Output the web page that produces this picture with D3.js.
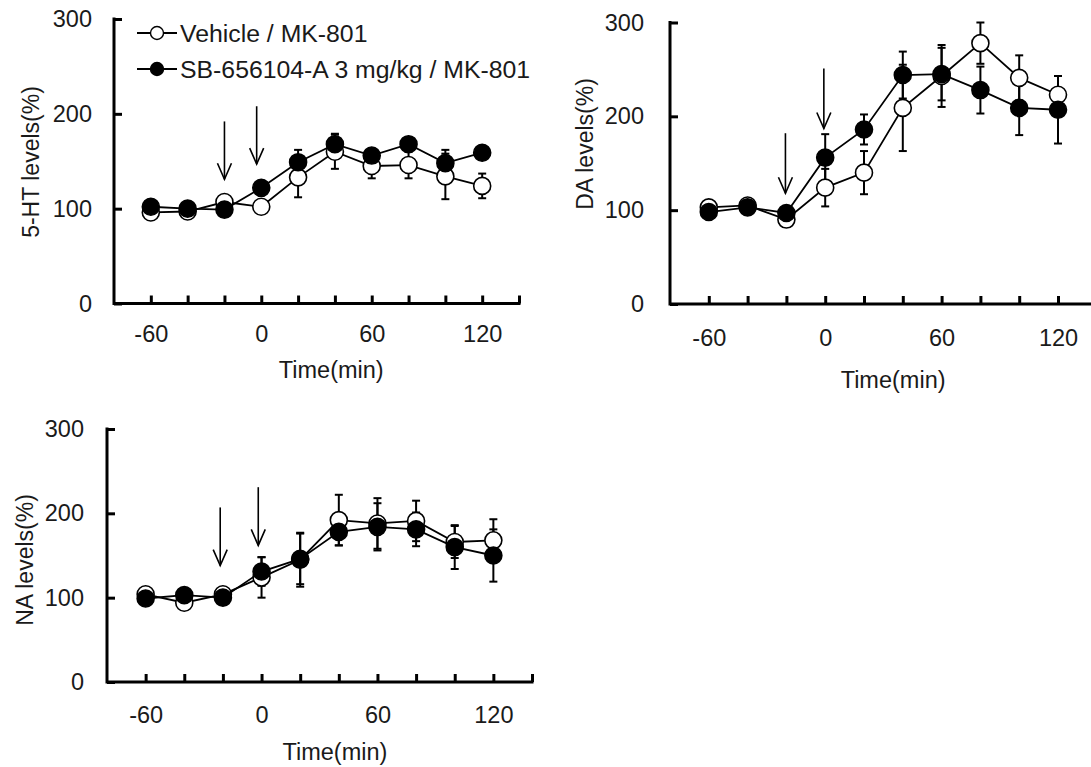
<!DOCTYPE html>
<html>
<head>
<meta charset="utf-8">
<script src="https://cdn.jsdelivr.net/npm/d3@7/dist/d3.min.js"></script>
<style>
  html, body { margin: 0; padding: 0; background: #fff; }
  svg { display: block; }
  text { font-family: "Liberation Sans", Arial, sans-serif; fill: #1a1a1a; }
</style>
</head>
<body>
<svg id="fig" width="1091" height="767"></svg>
<script>
// Sampling times (min) relative to MK-801 injection
const time = [-60, -40, -20, 0, 20, 40, 60, 80, 100, 120];
const timeTicks = [-60, -40, -20, 0, 20, 40, 60, 80, 100, 120, 140];
const timeLabels = [-60, 0, 60, 120];
const levelTicks = [0, 100, 200, 300];
const seriesNames = ["Vehicle / MK-801", "SB-656104-A 3 mg/kg / MK-801"];

// 5-HT (% of baseline), mean and SEM
const htVehicle = [96, 97, 107, 102, 133, 160, 145, 146, 134, 124];
const htVehicleErr = [3, 3, 3, 3, 21, 18, 13, 14, 24, 13];
const htSB = [102, 100, 99, 122, 149, 168, 156, 168, 148, 159];
const htSBErr = [3, 3, 3, 4, 13, 11, 5, 5, 14, 4];

// DA (% of baseline)
const daVehicle = [103, 105, 90, 124, 140, 209, 243, 278, 241, 223];
const daVehicleErr = [3, 3, 3, 20, 23, 46, 33, 22, 24, 20];
const daSB = [98, 103, 97, 156, 186, 244, 245, 228, 209, 207];
const daSBErr = [3, 3, 3, 25, 16, 25, 28, 25, 29, 36];

// NA (% of baseline)
const naVehicle = [104, 94, 104, 124, 145, 192, 188, 191, 166, 168];
const naVehicleErr = [3, 3, 3, 24, 32, 30, 30, 24, 19, 25];
const naSB = [99, 103, 100, 131, 146, 178, 184, 181, 160, 150];
const naSBErr = [3, 3, 3, 17, 30, 16, 28, 20, 26, 31];

// Drug administration arrows: [time, top level, tip level]
const htArrows = [[-20, 192, 131], [-2.5, 208, 147]];
const daArrows = [[-20.5, 182, 118], [-0.7, 251, 187]];
const naArrows = [[-21.4, 207, 138], [-1.7, 231, 162]];

const panels = [
  { title: "5-HT levels(%)", veh: htVehicle, vehErr: htVehicleErr, sb: htSB, sbErr: htSBErr, arrows: htArrows,
    px: [114, 519], py: [303.5, 19], yPad: 22, xPad: 22, titleXY: [31, 162], xTitleT: 38, xTitleDy: 66, legend: true },
  { title: "DA levels(%)", veh: daVehicle, vehErr: daVehicleErr, sb: daSB, sbErr: daSBErr, arrows: daArrows,
    px: [670, 1096.8], py: [304, 22.5], yPad: 26, xPad: 25, titleXY: [585, 144], xTitleT: 35, xTitleDy: 76, legend: false },
  { title: "NA levels(%)", veh: naVehicle, vehErr: naVehicleErr, sb: naSB, sbErr: naSBErr, arrows: naArrows,
    px: [107, 532], py: [682, 429], yPad: 23, xPad: 24, titleXY: [25, 560], xTitleT: 38, xTitleDy: 70, legend: false }
];

const svg = d3.select("#fig");
const R = 8.5;
const TICK = 8;
const AXIS_W = 3;

panels.forEach(p => {
  const g = svg.append("g");
  const x = d3.scaleLinear().domain([-80, 140]).range(p.px);
  const y = d3.scaleLinear().domain([0, 300]).range(p.py);

  // axes with inward tick marks
  const xAxis = d3.axisBottom(x).tickValues(timeTicks).tickSize(-TICK).tickSizeOuter(0)
    .tickPadding(p.xPad).tickFormat(d => timeLabels.includes(d) ? d : "");
  const yAxis = d3.axisLeft(y).tickValues(levelTicks).tickSize(-TICK).tickSizeOuter(0)
    .tickPadding(p.yPad);

  const gx = g.append("g").attr("transform", `translate(0,${p.py[0]})`).call(xAxis);
  const gy = g.append("g").attr("transform", `translate(${p.px[0]},0)`).call(yAxis);
  gx.selectAll(".tick text").attr("dy", "0.71em");
  [gx, gy].forEach(a => {
    a.select(".domain").remove();
    a.selectAll(".tick line").attr("stroke", "#000").attr("stroke-width", AXIS_W);
    a.selectAll(".tick text").style("font-size", "23.5px").attr("fill", "#1a1a1a")
      .style("font-family", "'Liberation Sans', Arial, sans-serif");
  });

  // axis lines
  g.append("path")
    .attr("d", `M${p.px[0]},${p.py[1]}V${p.py[0]}H${p.px[1]}`)
    .attr("fill", "none").attr("stroke", "#000").attr("stroke-width", AXIS_W)
    .attr("stroke-linecap", "square");

  // axis titles
  g.append("text")
    .attr("transform", `translate(${p.titleXY[0]},${p.titleXY[1]}) rotate(-90)`)
    .attr("text-anchor", "middle").attr("dominant-baseline", "central")
    .style("font-size", "23px").text(p.title);
  g.append("text")
    .attr("x", x(p.xTitleT)).attr("y", p.py[0] + p.xTitleDy)
    .attr("text-anchor", "middle").attr("dominant-baseline", "central")
    .style("font-size", "23.5px").text("Time(min)");

  const series = [
    { v: p.veh, e: p.vehErr, fill: "#fff" },
    { v: p.sb, e: p.sbErr, fill: "#000" }
  ];

  // error bars
  series.forEach(s => {
    const eb = g.append("g").attr("stroke", "#000").attr("stroke-width", 2);
    time.forEach((t, i) => {
      const cx = x(t), lo = y(s.v[i] - s.e[i]), hi = y(s.v[i] + s.e[i]);
      eb.append("line").attr("x1", cx).attr("x2", cx).attr("y1", lo).attr("y2", hi);
      eb.append("line").attr("x1", cx - 4).attr("x2", cx + 4).attr("y1", lo).attr("y2", lo);
      eb.append("line").attr("x1", cx - 4).attr("x2", cx + 4).attr("y1", hi).attr("y2", hi);
    });
  });

  // connecting lines and markers
  const pathGen = d3.line().x((d, i) => x(time[i])).y(d => y(d));
  series.forEach(s => {
    g.append("path").datum(s.v).attr("d", pathGen)
      .attr("fill", "none").attr("stroke", "#000").attr("stroke-width", 1.8);
    g.append("g").selectAll("circle").data(s.v).join("circle")
      .attr("cx", (d, i) => x(time[i])).attr("cy", d => y(d)).attr("r", R)
      .attr("fill", s.fill).attr("stroke", "#000").attr("stroke-width", 1.6);
  });

  // injection arrows
  p.arrows.forEach(([t, top, tip]) => {
    const ax = x(t), y0 = y(top), y1 = y(tip);
    g.append("line").attr("x1", ax).attr("x2", ax).attr("y1", y0).attr("y2", y1)
      .attr("stroke", "#000").attr("stroke-width", 1.6);
    g.append("path").attr("d", `M${ax - 7},${y1 - 16}L${ax},${y1}L${ax + 7},${y1 - 16}`)
      .attr("fill", "none").attr("stroke", "#000").attr("stroke-width", 1.6);
  });

  // legend
  if (p.legend) {
    const rows = [{ y: 33, fill: "#fff" }, { y: 69, fill: "#000" }];
    rows.forEach((r, i) => {
      const lg = g.append("g");
      lg.append("line").attr("x1", 137).attr("x2", 177).attr("y1", r.y).attr("y2", r.y)
        .attr("stroke", "#000").attr("stroke-width", 2);
      lg.append("circle").attr("cx", 157).attr("cy", r.y).attr("r", 6.5)
        .attr("fill", r.fill).attr("stroke", "#000").attr("stroke-width", 1.4);
      lg.append("text").attr("x", 180).attr("y", r.y).attr("dominant-baseline", "central")
        .style("font-size", "24.8px").text(seriesNames[i]);
    });
  }
});
</script>
</body>
</html>
